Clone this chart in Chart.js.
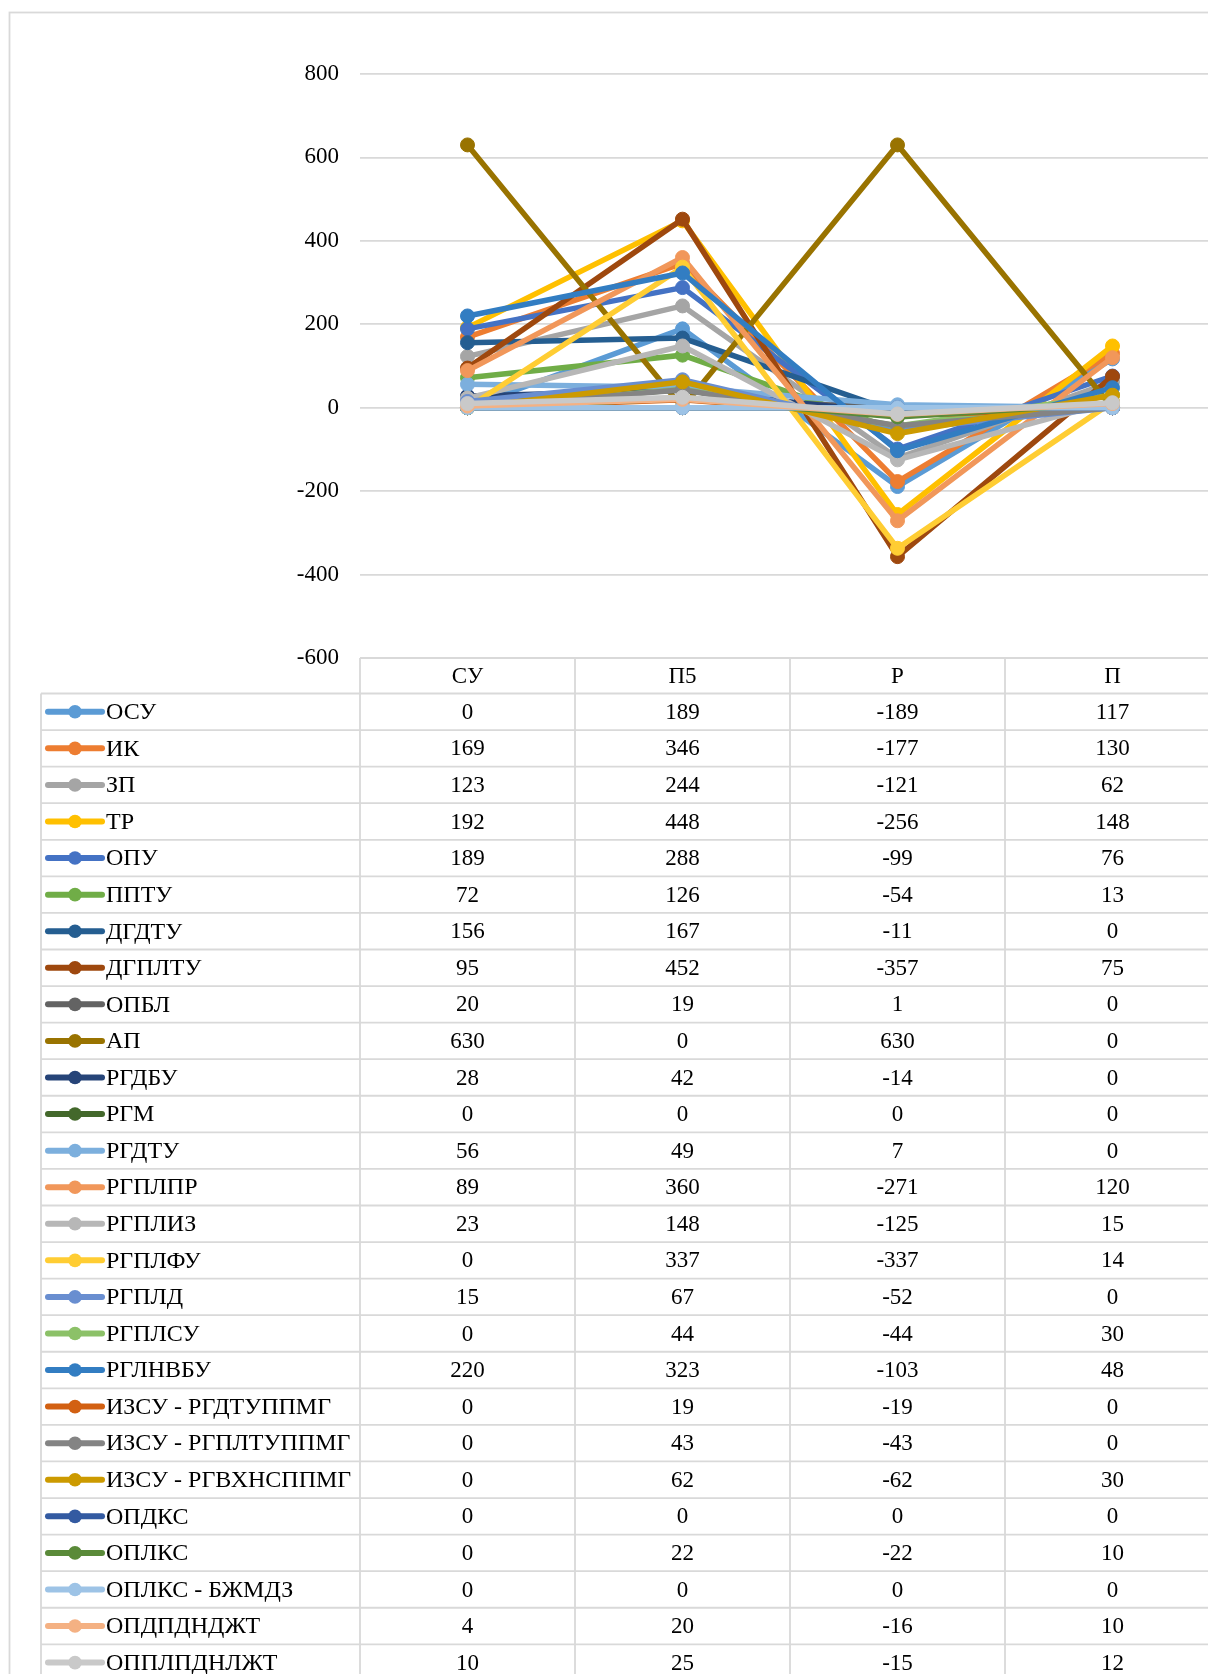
<!DOCTYPE html>
<html>
<head>
<meta charset="utf-8">
<script src="https://cdn.jsdelivr.net/npm/chart.js"></script>
<style>
  html, body { margin: 0; padding: 0; background: #fff; overflow: hidden; }
  #wrap { position: absolute; left: 0; top: 0; }
</style>
</head>
<body>
<div id="wrap"><canvas id="myChart" width="1240" height="1700"></canvas></div>
<script>
// data
var categories = ["СУ", "П5", "Р", "П"]
var seriesNames = ["ОСУ", "ИК", "ЗП", "ТР", "ОПУ", "ППТУ", "ДГДТУ", "ДГПЛТУ", "ОПБЛ", "АП",
    "РГДБУ", "РГМ", "РГДТУ", "РГПЛПР", "РГПЛИЗ", "РГПЛФУ", "РГПЛД", "РГПЛСУ", "РГЛНВБУ",
    "ИЗСУ - РГДТУППМГ", "ИЗСУ - РГПЛТУППМГ", "ИЗСУ - РГВХНСППМГ", "ОПДКС", "ОПЛКС",
    "ОПЛКС - БЖМДЗ", "ОПДПДНДЖТ", "ОППЛПДНЛЖТ"]
var valuesSU = [0, 169, 123, 192, 189, 72, 156, 95, 20, 630, 28, 0, 56, 89, 23, 0, 15, 0, 220, 0, 0, 0, 0, 0, 0, 4, 10]
var valuesP5 = [189, 346, 244, 448, 288, 126, 167, 452, 19, 0, 42, 0, 49, 360, 148, 337, 67, 44, 323, 19, 43, 62, 0, 22, 0, 20, 25]
var valuesR = [-189, -177, -121, -256, -99, -54, -11, -357, 1, 630, -14, 0, 7, -271, -125, -337, -52, -44, -103, -19, -43, -62, 0, -22, 0, -16, -15]
var valuesP = [117, 130, 62, 148, 76, 13, 0, 75, 0, 0, 0, 0, 0, 120, 15, 14, 0, 30, 48, 0, 0, 30, 0, 10, 0, 10, 12]
var yTicks = [-600, -400, -200, 0, 200, 400, 600, 800]

// office palette
var palette = ["#5B9BD5", "#ED7D31", "#A5A5A5", "#FFC000", "#4472C4", "#70AD47", "#255E91", "#9E480E",
    "#636363", "#997300", "#264478", "#43682B", "#7CAFDD", "#F1975A", "#B7B7B7", "#FFCD33", "#698ED0",
    "#8CC168", "#327DC2", "#D26012", "#848484", "#CC9A00", "#335AA1", "#5A8A39", "#9DC3E6", "#F4B183", "#C9C9C9"]

var serif = "'Liberation Serif', 'Times New Roman', serif"
var gridColor = "#D9D9D9"
var rowH = 36.57

var datasets = []
for (var i = 0; i < seriesNames.length; i++) {
    datasets.push({
        label: seriesNames[i],
        data: [valuesSU[i], valuesP5[i], valuesR[i], valuesP[i]],
        borderColor: palette[i],
        backgroundColor: palette[i],
        pointBackgroundColor: palette[i],
        pointBorderColor: palette[i],
        borderWidth: 5.5,
        pointRadius: 7,
        pointBorderWidth: 1,
        tension: 0,
        order: seriesNames.length - i   // later series on top, like excel
    })
}

// table under the plot
var dataTable = {
    id: 'dataTable',
    afterDraw: function (chart) {
        var ctx = chart.ctx
        var x = chart.scales.x
        var area = chart.chartArea
        var step = x.getPixelForValue(1) - x.getPixelForValue(0)
        var cols = [area.left]
        for (var c = 0; c < categories.length; c++) cols.push(x.getPixelForValue(c) + step / 2)
        var right = chart.width
        var headTop = area.bottom
        var bodyTop = headTop + 35.5
        var bottom = chart.height
        var tableLeft = 41
        var cols4 = [valuesSU, valuesP5, valuesR, valuesP]

        ctx.save()
        ctx.strokeStyle = gridColor
        ctx.lineWidth = 1.8
        // outer chart border
        ctx.strokeRect(9.5, 12.5, chart.width + 20, chart.height + 20)

        ctx.beginPath()
        ctx.moveTo(area.left, headTop); ctx.lineTo(right, headTop)
        for (var r = 0; r <= seriesNames.length; r++) {
            var yy = bodyTop + r * rowH
            ctx.moveTo(tableLeft, yy); ctx.lineTo(right, yy)
        }
        ctx.moveTo(tableLeft, bodyTop); ctx.lineTo(tableLeft, bottom)
        for (var k = 0; k < cols.length; k++) {
            ctx.moveTo(cols[k], headTop); ctx.lineTo(cols[k], bottom)
        }
        ctx.stroke()

        ctx.fillStyle = "#000"
        ctx.textBaseline = "middle"
        ctx.textAlign = "center"
        ctx.font = "23px " + serif
        for (var c2 = 0; c2 < categories.length; c2++) {
            ctx.fillText(categories[c2], x.getPixelForValue(c2), (headTop + bodyTop) / 2 + 1)
        }
        for (var s = 0; s < seriesNames.length; s++) {
            var cy = bodyTop + s * rowH + rowH / 2 + 1
            // legend key
            ctx.strokeStyle = palette[s]
            ctx.lineWidth = 6
            ctx.lineCap = "round"
            ctx.beginPath()
            ctx.moveTo(48, cy - 1); ctx.lineTo(102, cy - 1)
            ctx.stroke()
            ctx.fillStyle = palette[s]
            ctx.beginPath()
            ctx.arc(75, cy - 1, 6.8, 0, Math.PI * 2)
            ctx.fill()
            ctx.fillStyle = "#000"
            ctx.textAlign = "left"
            ctx.font = "24px " + serif
            ctx.fillText(seriesNames[s], 106, cy)
            ctx.textAlign = "center"
            ctx.font = "23px " + serif
            for (var c3 = 0; c3 < categories.length; c3++) {
                ctx.fillText(String(cols4[c3][s]), x.getPixelForValue(c3), cy)
            }
        }
        ctx.restore()
    }
}

var ctx = document.getElementById('myChart').getContext("2d")
var chart1 = new Chart(ctx, {
    type: 'line',
    plugins: [dataTable],
    data: {
        labels: categories,
        datasets: datasets
    },
    options: {
        responsive: false,
        animation: false,
        layout: {
            padding: { top: 74, left: 0, right: 20, bottom: 1700 - 658 }
        },
        scales: {
            x: {
                display: false,
                offset: true
            },
            y: {
                min: -600,
                max: 800,
                afterFit: function (scale) { scale.width = 360 },
                afterBuildTicks: function (scale) {
                    scale.ticks = yTicks.map(function (v) { return { value: v } })
                },
                border: { display: false },
                grid: {
                    color: gridColor,
                    lineWidth: 1.8,
                    drawTicks: false
                },
                ticks: {
                    padding: 21,
                    color: "#000",
                    font: { family: serif, size: 23 }
                }
            }
        },
        plugins: {
            legend: { display: false },
            tooltip: { enabled: false }
        }
    }
})
</script>
</body>
</html>
